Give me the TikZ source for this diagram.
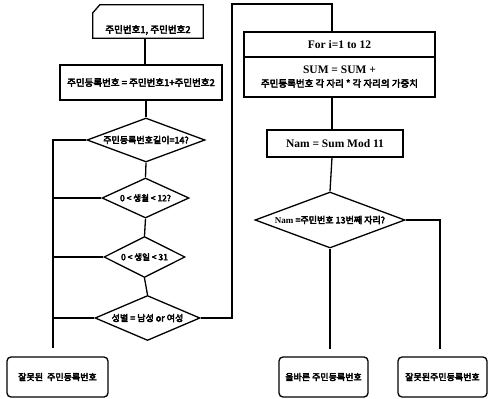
\documentclass[tikz,border=0pt]{standalone}
\usepackage{fontspec}
\usetikzlibrary{shapes.geometric}
\newfontfamily\kr{Noto Sans CJK KR}[FakeBold=4]
\newfontfamily\lat{Liberation Serif}
\tikzset{
  ln/.style={line width=1.3pt, black},
  box/.style={draw, ln, rectangle, inner sep=0pt},
  rbox/.style={draw, ln, rectangle, rounded corners=4pt, inner sep=0pt},
  dia/.style={draw, ln, diamond, inner sep=0pt},
  txt/.style={inner sep=0pt, font=\kr},
}
\newcommand{\fs}[1]{\fontsize{#1}{#1}\selectfont}
\begin{document}
\begin{tikzpicture}[x=1pt,y=-1pt]
\useasboundingbox (0,0) rectangle (488,399);
% input (manual input shape)
\node[txt, minimum width=110, minimum height=16] (in) at (148,30) {\fs{9.5}주민번호1, 주민번호2};
\draw[ln] (in.south west) -- (in.south east) -- ([yshift=17]in.north east)
  -- ([xshift=7,yshift=17]in.north west) -- ([yshift=9]in.north west) -- cycle;
\node[box, minimum width=162, minimum height=35] (calc) at (141,82.5) {\kr\fs{9.5}주민등록번호 = 주민번호1+주민번호2};
\node[dia, minimum width=118, minimum height=44] (d1) at (146,140) {};
\node[txt] (t1) at (d1) {\fs{9}주민등록번호길이=14?};
\node[dia, minimum width=87, minimum height=40] (d2) at (145.5,198) {};
\node[txt] (t2) at (d2) {\fs{8.5}0 < 생월 < 12?};
\node[dia, minimum width=81, minimum height=41] (d3) at (144.5,257) {};
\node[txt] (t3) at (d3) {\fs{8.5}0 < 생일 < 31};
\node[dia, minimum width=105, minimum height=45] (d4) at (147.5,318) {};
\node[txt] (t4) at (d4) {\fs{9}성별 = 남성 or 여성};
\node[rbox, minimum width=101, minimum height=40] (bad) at (57.5,377) {\kr\fs{9}잘못된\ \ 주민등록번호};
% right column
\node[box, minimum width=191, minimum height=25] (for) at (339.5,44.5) {\lat\bfseries\fs{11.5}For i=1 to 12};
\node[box, minimum width=191, minimum height=40, align=center] (sum) at (339.5,77) {\lat\bfseries\fs{11.5}SUM = SUM +\\[1pt]\kr\fs{9.5}주민등록번호 각 자리 * 각 자리의 가중치};
\node[box, minimum width=136, minimum height=27] (nam) at (335,143.5) {\lat\bfseries\fs{11.5}Nam = Sum Mod 11};
\node[dia, minimum width=150, minimum height=56] (d5) at (330,220) {};
\node[txt] (t5) at (d5) {\fs{9}{\lat\bfseries Nam} =주민번호 13번째 자리?};
\node[rbox, minimum width=89, minimum height=40] (ok) at (323.5,377) {\kr\fs{9}올바른 주민등록번호};
\node[rbox, minimum width=89, minimum height=40] (bad2) at (442.5,377) {\kr\fs{9}잘못된주민등록번호};
% helper coordinates
\coordinate (lx) at (53,0);
\coordinate (rx) at (332,0);
\coordinate (loop) at (232,4);
% connectors
\draw[ln] (in.south -| calc.north) ++(4,0) coordinate (inb) -- (inb |- calc.north);
\draw[ln] (calc.south -| d1.north) -- (d1.north);
\draw[ln] (d1.south) -- (d2.north);
\draw[ln] (d2.south) -- (d3.north);
\draw[ln] (d3.south) -- (d4.north);
\draw[ln, shorten >=8pt] (d1.west) -| (bad.north -| lx);
\draw[ln] (d2.west) -- (d2.west -| lx);
\draw[ln] (d3.west) -- (d3.west -| lx);
\draw[ln] (d4.west) -- (d4.west -| lx);
\draw[ln] (d4.east) -| (loop) -| (for.north -| rx);
\draw[ln] (sum.south -| rx) -- (nam.north -| rx);
\draw[ln] (nam.south -| rx) -- (d5.north);
\draw[ln, shorten >=7pt] (d5.south) -- (d5.south |- ok.north);
\draw[ln, shorten >=7pt] (d5.east) -| ([xshift=-2.5]bad2.north);
\end{tikzpicture}
\end{document}
